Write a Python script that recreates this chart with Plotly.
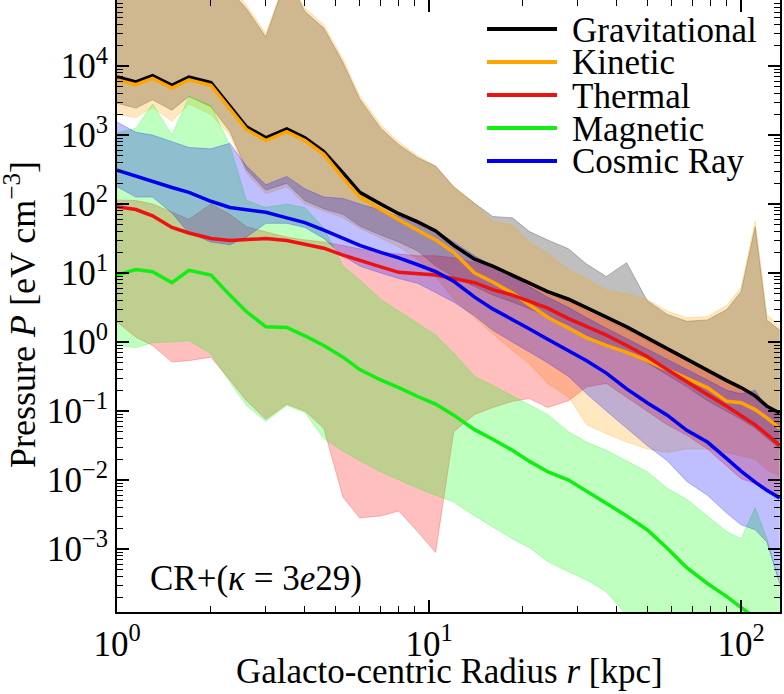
import numpy as np
import plotly.graph_objects as go

# radial bins [kpc]
radius = [1.0, 1.15, 1.3, 1.5, 1.7, 2.0, 2.3, 2.6, 3.0, 3.5, 4.0, 4.6, 5.3, 6.0, 7.0, 8.0,
          9.2, 10.5, 12, 14, 16, 18.5, 21, 24, 28, 32, 37, 43, 50, 58, 67, 78, 90, 100,
          111, 121, 133]

# log10 of pressure [eV cm^-3] -- median curves
grav_log = [3.84, 3.77, 3.86, 3.72, 3.84, 3.76, 3.42, 3.12, 2.96, 3.09, 2.96, 2.76, 2.45, 2.17,
            2.00, 1.86, 1.74, 1.61, 1.40, 1.20, 1.10, 0.97, 0.85, 0.73, 0.62, 0.49, 0.36, 0.22,
            0.06, -0.09, -0.25, -0.40, -0.56, -0.66, -0.78, -0.93, -1.03]
kin_log = [3.80, 3.73, 3.82, 3.68, 3.80, 3.72, 3.38, 3.08, 2.92, 3.05, 2.92, 2.72, 2.38, 2.10,
           1.92, 1.78, 1.62, 1.48, 1.30, 1.00, 0.87, 0.71, 0.54, 0.36, 0.20, 0.06, -0.05, -0.15,
           -0.27, -0.40, -0.52, -0.66, -0.86, -0.88, -0.98, -1.10, -1.25]
therm_log = [1.96, 1.92, 1.83, 1.66, 1.58, 1.50, 1.47, 1.48, 1.50, 1.47, 1.42, 1.36, 1.26, 1.18,
             1.09, 1.01, 0.99, 0.97, 0.92, 0.86, 0.76, 0.68, 0.59, 0.49, 0.34, 0.22, 0.10, -0.05,
             -0.21, -0.40, -0.58, -0.76, -0.93, -1.06, -1.20, -1.34, -1.50]
mag_log = [0.97, 1.05, 1.02, 0.86, 1.04, 0.97, 0.68, 0.44, 0.22, 0.21, 0.09, -0.05, -0.22, -0.40,
           -0.55, -0.66, -0.79, -0.90, -1.06, -1.27, -1.41, -1.57, -1.73, -1.88, -2.00, -2.16,
           -2.33, -2.52, -2.72, -2.99, -3.27, -3.50, -3.69, -3.84, -4.00, -4.20, -4.40]
cr_log = [2.49, 2.40, 2.33, 2.24, 2.17, 2.04, 1.95, 1.92, 1.88, 1.80, 1.73, 1.62, 1.50, 1.40,
          1.30, 1.22, 1.12, 1.02, 0.88, 0.65, 0.48, 0.33, 0.19, 0.04, -0.12, -0.27, -0.45, -0.68,
          -0.88, -1.06, -1.28, -1.45, -1.69, -1.87, -2.03, -2.15, -2.26]

# log10 of pressure -- lower / upper edges of the scatter bands
grav_lo = [3.46, 3.39, 3.51, 3.36, 3.56, 3.41, 3.05, 2.50, 2.20, 2.30, 2.05, 1.93, 1.85, 1.68,
           1.55, 1.45, 1.32, 1.10, 0.95, 0.80, 0.68, 0.58, 0.48, 0.38, 0.25, 0.10, -0.02, -0.15,
           -0.30, -0.48, -0.65, -0.85, -1.00, -1.12, -1.25, -1.40, -1.55]
grav_hi = [5.3, 5.3, 5.3, 5.3, 5.3, 5.25, 5.1, 4.83, 4.42, 5.3, 4.79, 4.55, 4.05, 3.52, 3.10,
           2.86, 2.67, 2.55, 2.25, 2.01, 1.82, 1.80, 1.60, 1.48, 1.35, 1.13, 0.95, 1.15, 0.60,
           0.40, 0.30, 0.32, 0.47, 0.73, 1.67, 0.32, 0.17]
kin_lo = [3.30, 3.25, 3.40, 3.20, 3.45, 3.30, 3.00, 2.45, 2.15, 2.25, 2.00, 1.90, 1.80, 1.65,
          1.50, 1.38, 1.20, 0.95, 0.62, 0.35, 0.12, -0.12, -0.32, -0.60, -0.80, -1.20, -1.33,
          -1.45, -1.55, -1.60, -1.55, -1.55, -1.60, -1.65, -1.70, -1.85, -1.95]
kin_hi = [5.3, 5.3, 5.3, 5.3, 5.3, 5.3, 5.15, 4.88, 4.47, 5.3, 4.84, 4.60, 4.10, 3.57, 3.15,
          2.90, 2.70, 2.55, 2.25, 2.00, 1.75, 1.70, 1.45, 1.28, 1.05, 0.92, 0.75, 0.70, 0.62,
          0.45, 0.35, 0.37, 0.53, 0.79, 1.75, 0.40, 0.23]
therm_lo = [0.29, 0.07, -0.05, -0.29, -0.27, -0.22, -0.55, -0.85, -1.12, -0.90, -1.00, -1.25,
            -2.25, -2.55, -2.52, -2.45, -2.75, -3.05, -1.30, -1.05, -0.95, -0.86, -0.82, -0.95,
            -0.85, -0.65, -0.60, -0.80, -1.00, -1.20, -1.35, -1.55, -1.80, -1.98, -2.05, -2.15,
            -2.25]
therm_hi = [2.06, 2.05, 2.00, 1.88, 1.78, 2.00, 1.85, 1.67, 1.60, 1.52, 1.48, 1.45, 1.40, 1.35,
            1.30, 1.28, 1.25, 1.25, 1.22, 1.15, 1.08, 0.98, 0.88, 0.74, 0.60, 0.45, 0.32, 0.18,
            0.02, -0.12, -0.26, -0.42, -0.56, -0.68, -0.80, -0.95, -1.05]
mag_lo = [-0.05, -0.08, -0.01, 0.00, 0.02, -0.17, -0.58, -0.92, -1.15, -0.92, -1.02, -1.40,
          -1.58, -1.72, -1.88, -2.00, -2.12, -2.22, -2.32, -2.52, -2.68, -2.85, -2.98, -3.18,
          -3.33, -3.45, -3.62, -3.95, -4.3, -4.5, -4.7, -4.9, -5.1, -5.2, -5.3, -5.4, -5.5]
mag_hi = [3.03, 3.10, 3.45, 3.00, 3.55, 3.43, 2.85, 2.05, 1.95, 2.00, 1.95, 1.65, 1.10, 0.90,
          0.62, 0.45, 0.28, 0.10, -0.16, -0.50, -0.63, -0.78, -0.90, -1.05, -1.30, -1.45, -1.57,
          -1.72, -1.88, -2.12, -2.28, -2.52, -2.75, -2.85, -2.40, -2.85, -3.50]
cr_lo = [2.25, 2.10, 2.10, 1.87, 1.58, 1.45, 1.41, 1.52, 1.72, 1.72, 1.66, 1.50, 1.25, 1.10,
         1.00, 0.92, 0.85, 0.72, 0.58, 0.38, 0.17, 0.00, -0.15, -0.30, -0.50, -0.75, -1.00,
         -1.25, -1.50, -1.72, -2.02, -2.22, -2.48, -2.65, -2.72, -2.90, -3.50]
cr_hi = [3.19, 3.04, 3.00, 2.90, 2.82, 2.80, 2.88, 2.55, 2.28, 2.40, 2.22, 2.10, 2.08, 2.00,
         1.91, 1.82, 1.73, 1.62, 1.45, 1.25, 1.10, 0.95, 0.80, 0.65, 0.50, 0.35, 0.20, 0.05,
         -0.10, -0.25, -0.40, -0.55, -0.70, -0.75, -0.70, -0.95, -1.05]

labels = ["Gravitational", "Kinetic", "Thermal", "Magnetic", "Cosmic Ray"]
rgb = ["0,0,0", "255,165,0", "255,0,0", "0,255,0", "0,0,255"]
line_col = ["black", "#ffa500", "#ee1111", "#11ee11", "#0000ee"]
medians = [grav_log, kin_log, therm_log, mag_log, cr_log]
lows = [grav_lo, kin_lo, therm_lo, mag_lo, cr_lo]
highs = [grav_hi, kin_hi, therm_hi, mag_hi, cr_hi]

FONT = "Liberation Serif, DejaVu Serif, serif"
W, H = 784, 694
L, R, T, B = 117, 4, 0, 82


def px(x):  # figure pixel -> paper x
    return (x - L) / (W - L - R)


def py(y):  # figure pixel -> paper y
    return (H - B - y) / (H - T - B)


fig = go.Figure()

# scatter bands first
for i in range(len(labels)):
    fig.add_trace(go.Scatter(
        x=radius, y=np.power(10.0, lows[i]), mode="lines",
        line=dict(color=f"rgba({rgb[i]},0.3)", width=0.8),
        showlegend=False, hoverinfo="skip"))
    fig.add_trace(go.Scatter(
        x=radius, y=np.power(10.0, highs[i]), mode="lines", fill="tonexty",
        fillcolor=f"rgba({rgb[i]},0.25)",
        line=dict(color=f"rgba({rgb[i]},0.3)", width=0.8),
        showlegend=False, hoverinfo="skip"))

# median lines on top
for i in range(len(labels)):
    fig.add_trace(go.Scatter(
        x=radius, y=np.power(10.0, medians[i]), mode="lines", name=labels[i],
        line=dict(color=line_col[i], width=3.5), showlegend=False))

# hand-made legend (long line samples like matplotlib)
leg_y = [29, 62, 95, 128, 161]
for i in range(len(labels)):
    fig.add_shape(type="line", xref="paper", yref="paper",
                  x0=px(487), x1=px(557), y0=py(leg_y[i]), y1=py(leg_y[i]),
                  line=dict(color=line_col[i], width=4))
    fig.add_annotation(text=labels[i], xref="paper", yref="paper",
                       x=px(571), y=py(leg_y[i] + 1), xanchor="left", yanchor="middle",
                       showarrow=False, borderpad=0,
                       font=dict(family=FONT, size=35, color="black"))

fig.add_annotation(text="CR+(<i>κ</i> = 3<i>e</i>29)", xref="paper", yref="paper",
                   x=px(148), y=py(578), xanchor="left", yanchor="middle",
                   showarrow=False, font=dict(family=FONT, size=35, color="black"))

# axis titles
fig.add_annotation(text="Galacto-centric Radius <i>r</i> [kpc]", xref="paper", yref="paper",
                   x=px(449), y=py(671), xanchor="center", yanchor="middle",
                   showarrow=False, borderpad=0,
                   font=dict(family=FONT, size=35, color="black"))
fig.add_annotation(text="Pressure <i>P</i> [eV cm<sup>−3</sup>]", xref="paper", yref="paper",
                   x=px(21), y=py(315), xanchor="center", yanchor="middle", textangle=-90,
                   showarrow=False, borderpad=0,
                   font=dict(family=FONT, size=36, color="black"))

x_major = [1, 10, 100]
x_text = ["10<sup>0</sup>", "10<sup>1</sup>", "10<sup>2</sup>"]
y_major = [1e-3, 1e-2, 1e-1, 1, 10, 100, 1e3, 1e4]
y_text = ["10<sup>−3</sup>", "10<sup>−2</sup>", "10<sup>−1</sup>", "10<sup>0</sup>",
          "10<sup>1</sup>", "10<sup>2</sup>", "10<sup>3</sup>", "10<sup>4</sup>"]
x_minor = [m * 10.0 ** k for k in range(0, 3) for m in range(2, 10)]
y_minor = [m * 10.0 ** k for k in range(-4, 5) for m in range(2, 10)]

axis_common = dict(
    type="log", showline=True, linecolor="black", linewidth=2, mirror="ticks",
    ticks="inside", ticklen=12, tickwidth=1.6, tickcolor="black",
    showgrid=False, zeroline=False, automargin=False,
    tickfont=dict(family=FONT, size=35, color="black"),
)

fig.update_layout(
    width=W, height=H,
    margin=dict(l=L, r=R, t=T, b=B),
    plot_bgcolor="white", paper_bgcolor="white",
    showlegend=False,
    xaxis=dict(axis_common, range=[0, np.log10(133.3)], tickmode="array",
               tickvals=x_major, ticktext=x_text,
               minor=dict(tickmode="array", tickvals=x_minor, ticks="inside",
                          ticklen=6, tickwidth=1.4, tickcolor="black", showgrid=False)),
    yaxis=dict(axis_common, range=[-3.913, 4.957], tickmode="array",
               tickvals=y_major, ticktext=y_text,
               minor=dict(tickmode="array", tickvals=y_minor, ticks="inside",
                          ticklen=6, tickwidth=1.4, tickcolor="black", showgrid=False)),
)

# the default page keeps an 8px body margin; drop it so the figure sits at the corner
fig.write_html("out.html", config={"displayModeBar": False},
               post_script="document.body.style.margin='0';")
